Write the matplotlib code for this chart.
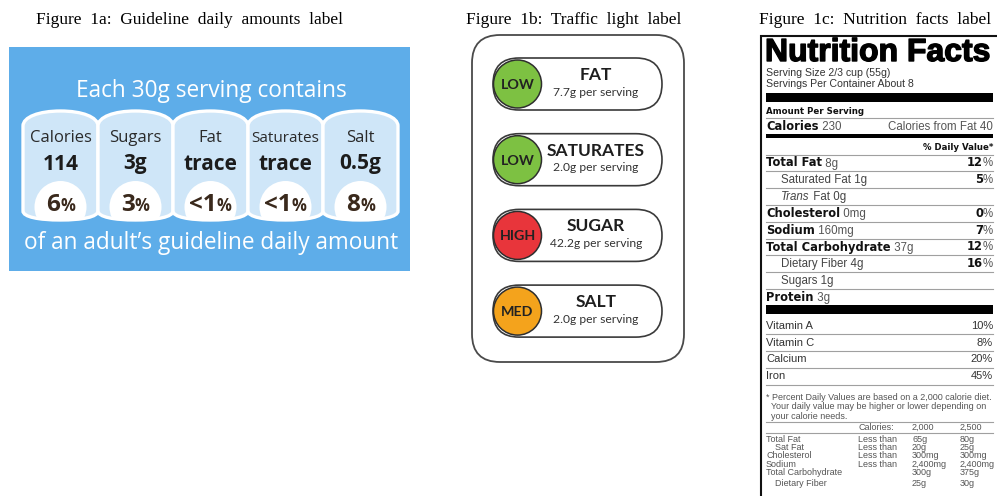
import matplotlib
matplotlib.use("Agg")
import matplotlib.pyplot as plt
import matplotlib.patheffects as pe
from matplotlib.path import Path
from matplotlib.patches import PathPatch, Circle, Rectangle, FancyBboxPatch
from matplotlib.offsetbox import TextArea, HPacker, AnnotationBbox

# ---- data -------------------------------------------------------------
titles = ["Figure  1a:  Guideline  daily  amounts  label",
          "Figure  1b:  Traffic  light  label",
          "Figure  1c:  Nutrition  facts  label"]

gda_header = "Each 30g serving contains"
gda_footer = "of an adult\u2019s guideline daily amount"
gda_names = ["Calories", "Sugars", "Fat", "Saturates", "Salt"]
gda_amounts = ["114", "3g", "trace", "trace", "0.5g"]
gda_pcts = ["6", "3", "<1", "<1", "8"]

tl_nutrients = ["FAT", "SATURATES", "SUGAR", "SALT"]
tl_amounts = ["7.7g", "2.0g", "42.2g", "2.0g"]
tl_levels = ["LOW", "LOW", "HIGH", "MED"]
tl_colors = {"LOW": "#7dc142", "MED": "#f4a31c", "HIGH": "#e8353b"}

nf_serving = ["Serving Size 2/3 cup (55g)", "Servings Per Container About 8"]
nf_calories = ("230", "Calories from Fat 40")
nf_labels = ["Total Fat", "Saturated Fat", "Trans Fat", "Cholesterol", "Sodium",
             "Total Carbohydrate", "Dietary Fiber", "Sugars", "Protein"]
nf_amounts = ["8g", "1g", "0g", "0mg", "160mg", "37g", "4g", "1g", "3g"]
nf_dv = ["12", "5", "", "0", "7", "12", "16", "", ""]
nf_sub = [False, True, True, False, False, False, True, True, False]
vit_names = ["Vitamin A", "Vitamin C", "Calcium", "Iron"]
vit_dv = ["10%", "8%", "20%", "45%"]
foot_lines = ["* Percent Daily Values are based on a 2,000 calorie diet.",
              "  Your daily value may be higher or lower depending on",
              "  your calorie needs."]
tab_header = ["Calories:", "2,000", "2,500"]
tab_labels = ["Total Fat", "Sat Fat", "Cholesterol", "Sodium",
              "Total Carbohydrate", "Dietary Fiber"]
tab_sub = [False, True, False, False, False, True]
tab_cond = ["Less than", "Less than", "Less than", "Less than", "", ""]
tab_2000 = ["65g", "20g", "300mg", "2,400mg", "300g", "25g"]
tab_2500 = ["80g", "25g", "300mg", "2,400mg", "375g", "30g"]

# ---- canvas in pixel units ---------------------------------------------
W, H = 997, 496
fig = plt.figure(figsize=(W / 100, H / 100), dpi=100)
ax = fig.add_axes([0, 0, 1, 1])
ax.set_xlim(0, W)
ax.set_ylim(H, 0)
ax.axis("off")

SERIF = "Liberation Serif"
GDA = "Open Sans"
TL = "Lato"
NF = "Liberation Sans"
NFB = "DejaVu Sans"   # heavier face for the bold nutrition-facts labels


def mixed(parts, xy, align=(0, 0.5)):
    """parts: list of (text, textprops); packed along a shared baseline."""
    kids = [TextArea(s, textprops=p) for s, p in parts]
    box = HPacker(children=kids, align="baseline", pad=0, sep=0)
    ab = AnnotationBbox(box, xy, xycoords="data", frameon=False,
                        box_alignment=align, pad=0, annotation_clip=False)
    ax.add_artist(ab)


for t, cx in zip(titles, [189, 574, 875]):
    ax.text(cx, 20, t, family=SERIF, fontsize=12.5, ha="center", va="center")

# ---- Figure 1a: guideline daily amounts --------------------------------
ax.add_patch(Rectangle((9, 47), 401, 224, facecolor="#5eade9", edgecolor="none"))
ax.text(211, 91, gda_header, family=GDA, fontsize=16.3, color="white",
        ha="center", va="center")
ax.text(211, 243, gda_footer, family=GDA, fontsize=16.3, color="white",
        ha="center", va="center")

pw, px0 = 75, 23
yt, ys, yb, ybc = 111, 126, 211, 220
for i, (nm, amt, pc) in enumerate(zip(gda_names, gda_amounts, gda_pcts)):
    x0 = px0 + i * pw
    x1 = x0 + pw
    xc = (x0 + x1) / 2
    verts = [(x0, yb), (x0, ys),
             (x0, ys - 9), (x0 + 16, yt), (xc, yt),
             (x1 - 16, yt), (x1, ys - 9), (x1, ys),
             (x1, yb),
             (x1, yb + 6), (x1 - 16, ybc), (xc, ybc),
             (x0 + 16, ybc), (x0, yb + 6), (x0, yb),
             (x0, yb)]
    codes = ([Path.MOVETO, Path.LINETO] + [Path.CURVE4] * 3 + [Path.CURVE4] * 3
             + [Path.LINETO] + [Path.CURVE4] * 3 + [Path.CURVE4] * 3
             + [Path.CLOSEPOLY])
    panel = PathPatch(Path(verts, codes), facecolor="#cfe6f8", edgecolor="none")
    ax.add_patch(panel)
    disc = Circle((xc, 207), 26, facecolor="white", edgecolor="none")
    ax.add_patch(disc)
    disc.set_clip_path(panel)
    ax.add_patch(PathPatch(Path(verts, codes), facecolor="none",
                           edgecolor="white", linewidth=2.4))
    ax.text(xc, 138, nm, family=GDA, fontsize=12 if len(nm) < 9 else 11,
            color="#2a2a2a", ha="center", va="center")
    ax.text(xc, 164, amt, family=GDA, fontsize=15, fontweight="bold",
            color="#1c1c1c", ha="center", va="center")
    mixed([(pc, dict(family=GDA, fontsize=17.5, fontweight="bold", color="#3a291c")),
           ("%", dict(family=GDA, fontsize=12, fontweight="bold", color="#3a291c"))],
          (xc, 205), align=(0.5, 0.5))

# ---- Figure 1b: traffic light ------------------------------------------
ax.add_patch(FancyBboxPatch((472, 35), 212, 327,
                            boxstyle="round,pad=0,rounding_size=28",
                            facecolor="white", edgecolor="#4a4a4a", linewidth=1.3))
for i, (nut, amt, lev) in enumerate(zip(tl_nutrients, tl_amounts, tl_levels)):
    cy = 84 + i * 75.7
    ax.add_patch(FancyBboxPatch((493, cy - 26), 169, 52,
                                boxstyle="round,pad=0,rounding_size=26",
                                facecolor="white", edgecolor="#3a3a3a", linewidth=1.2))
    ax.add_patch(Circle((517.5, cy), 24, facecolor=tl_colors[lev],
                        edgecolor="#2e2e2e", linewidth=1.1))
    ax.text(517.5, cy + 1, lev, family=TL, fontsize=10.3, fontweight="bold",
            color="#222222", ha="center", va="center")
    ax.text(596, cy - 9, nut, family=TL, fontsize=12.5, fontweight="bold",
            color="#1e1e1e", ha="center", va="center")
    ax.text(596, cy + 8, f"{amt} per serving", family=TL, fontsize=8.7,
            color="#333333", ha="center", va="center")

# ---- Figure 1c: nutrition facts ----------------------------------------
L, R = 766, 993
ax.add_patch(Rectangle((761, 36), 240, 470, facecolor="white",
                       edgecolor="#111111", linewidth=1.5))
ax.text(L - 1, 61, "Nutrition Facts", family=NF, fontsize=23, fontweight="bold",
        color="black", ha="left", va="baseline",
        path_effects=[pe.withStroke(linewidth=1.0, foreground="black")])
for j, s in enumerate(nf_serving):
    ax.text(L, 73.5 + j * 10.5, s, family=NF, fontsize=7.6, color="#333333",
            ha="left", va="center")


def bar(y0, y1):
    ax.add_patch(Rectangle((L, y0), R - L, y1 - y0, facecolor="black",
                           edgecolor="none"))


def rule(y):
    ax.plot([L, R], [y, y], color="#a0a0a0", linewidth=0.8)


bold8 = dict(family=NFB, fontsize=8.3, fontweight="bold", color="#111111")
reg8 = dict(family=NF, fontsize=8.3, color="#555555")
sub8 = dict(family=NF, fontsize=8.3, color="#444444")

bar(93, 102)
ax.text(L, 111, "Amount Per Serving", family=NFB, fontsize=6.2, fontweight="bold",
        color="#111111", ha="left", va="center")
rule(118)
mixed([("Calories", bold8), (" " + nf_calories[0], reg8)], (L, 126.5))
ax.text(R, 126.5, nf_calories[1], family=NF, fontsize=8.3, color="#555555",
        ha="right", va="center")
bar(133.5, 137.5)
ax.text(R, 147, "% Daily Value*", family=NFB, fontsize=6.2, fontweight="bold",
        color="#111111", ha="right", va="center")

step = 16.8
for i, (lab, amt, dv, sub) in enumerate(zip(nf_labels, nf_amounts, nf_dv, nf_sub)):
    y = 163 + i * step
    rule(y - 8.4)
    if sub:
        if lab.startswith("Trans"):
            parts = [("Trans", dict(sub8, style="italic")),
                     (lab[5:] + " " + amt, sub8)]
        else:
            parts = [(lab + " " + amt, sub8)]
        mixed(parts, (L + 15, y))
    else:
        mixed([(lab, bold8), (" " + amt, reg8)], (L, y))
    if dv:
        mixed([(dv, bold8), ("%", reg8)], (R, y), align=(1, 0.5))

y_bar = 163 + len(nf_labels) * step - 7
bar(y_bar - 2, y_bar + 7)
for i, (nm, dv) in enumerate(zip(vit_names, vit_dv)):
    y = 326 + i * 16.7
    if i:
        rule(y - 8.4)
    ax.text(L, y, nm, family=NF, fontsize=8.0, color="#333333", ha="left", va="center")
    ax.text(R, y, dv, family=NF, fontsize=8.0, color="#333333", ha="right", va="center")
rule(326 + 3 * 16.7 + 8.4)

small = dict(family=NF, fontsize=6.5, color="#555555", va="center")
for j, s in enumerate(foot_lines):
    ax.text(L, 397 + j * 9.6, s, ha="left", **small)
rule(422)
cols = [858, 912, 960]
for c, s in zip(cols, tab_header):
    ax.text(c, 427.5, s, ha="left", **small)
rule(433)
for i, (lab, sub, cond, a, b) in enumerate(zip(tab_labels, tab_sub, tab_cond,
                                               tab_2000, tab_2500)):
    y = 439.3 + i * 8.3 + (3 if i == len(tab_labels) - 1 else 0)
    ax.text(L + (9 if sub else 0), y, lab, ha="left", **small)
    for c, s in zip(cols, [cond, a, b]):
        if s:
            ax.text(c, y, s, ha="left", **small)

fig.savefig("out.png", dpi=100)
